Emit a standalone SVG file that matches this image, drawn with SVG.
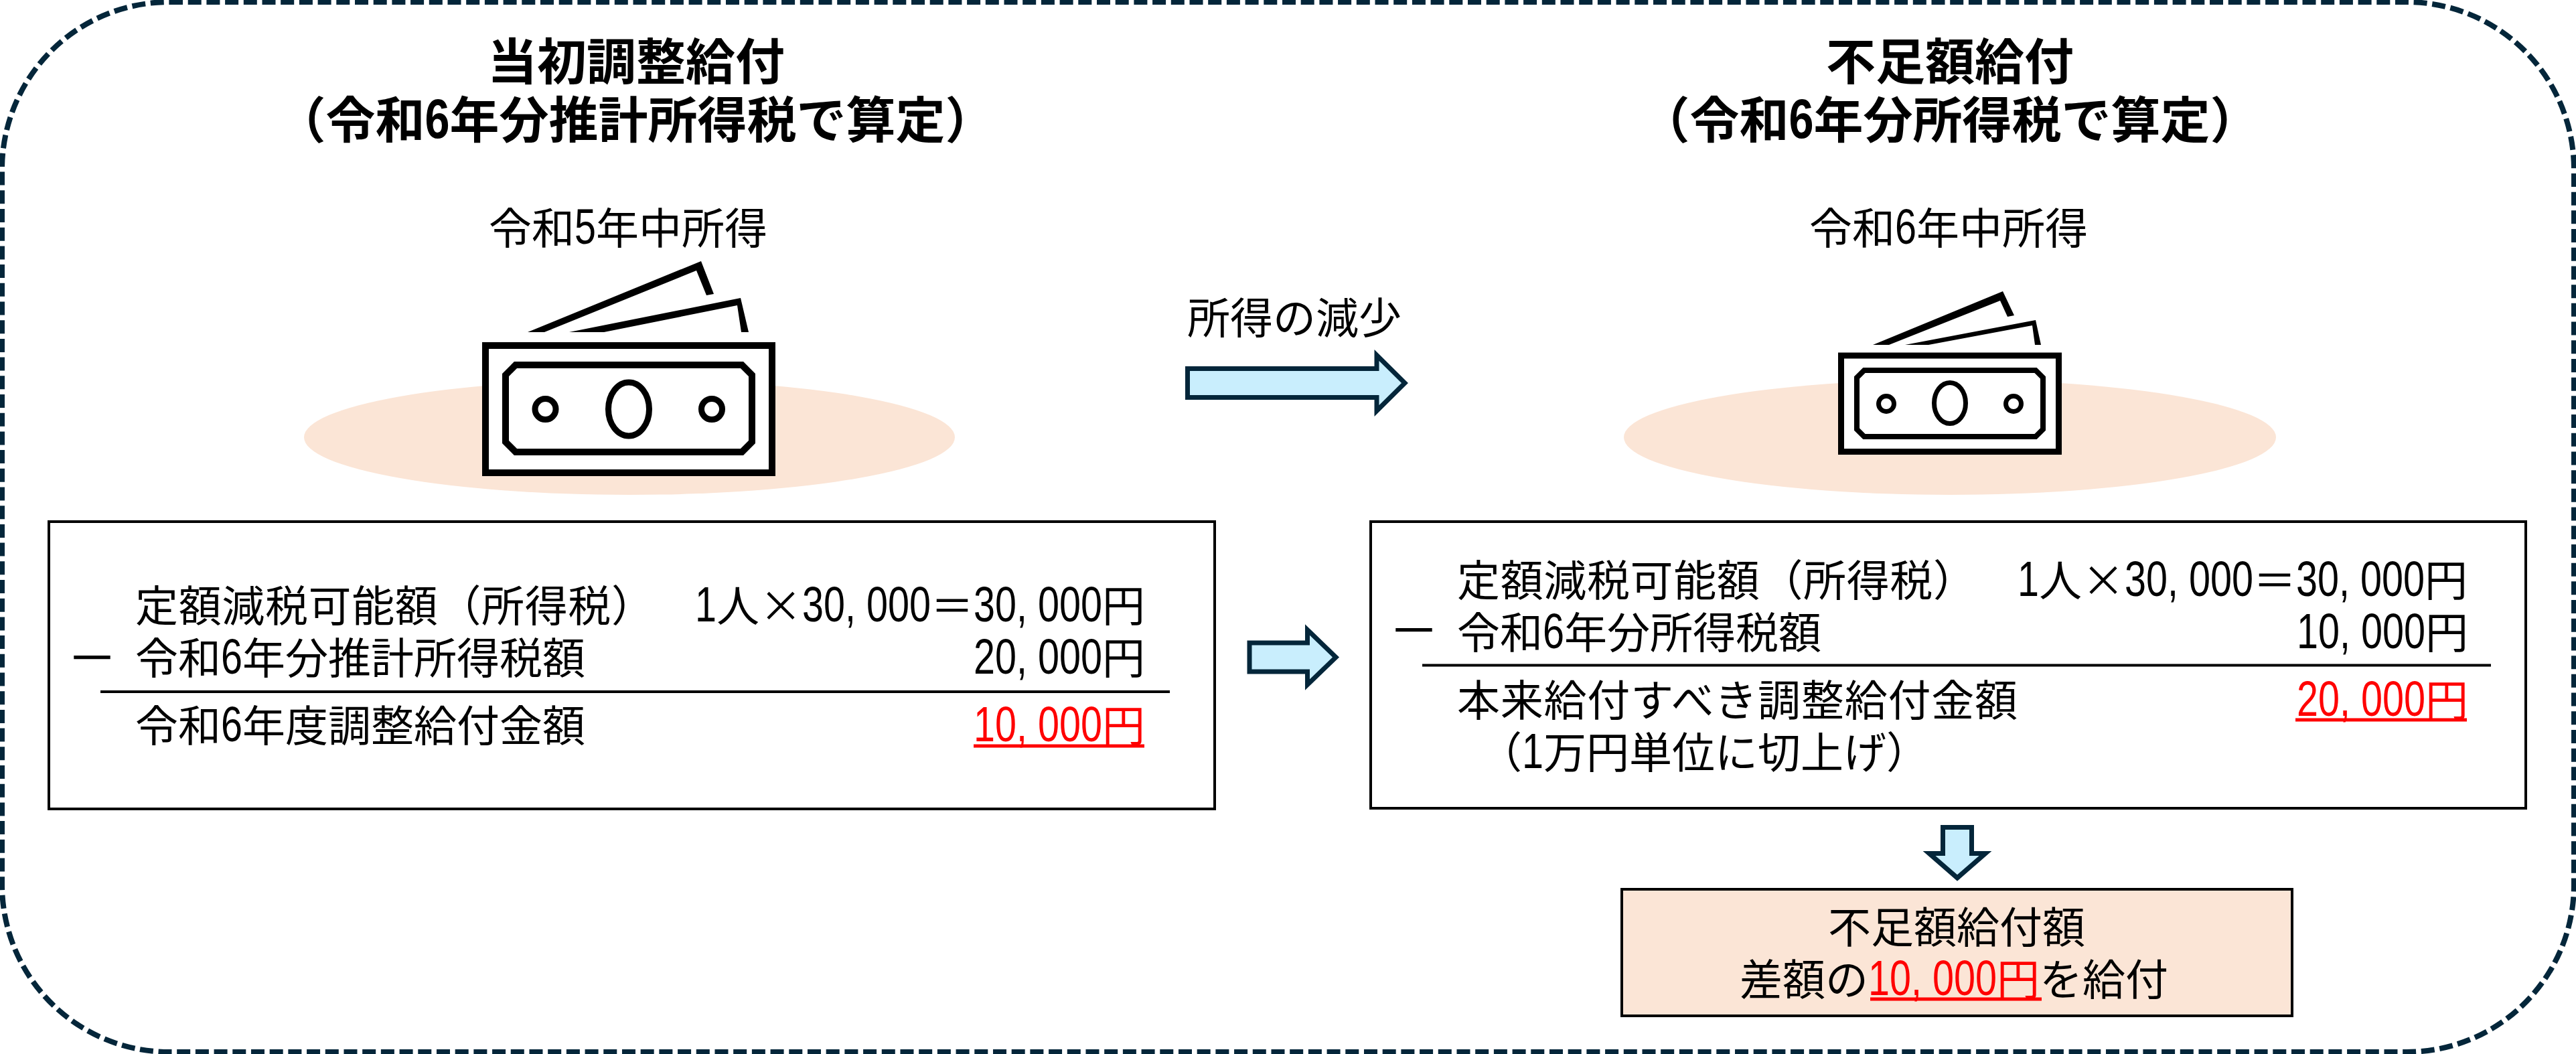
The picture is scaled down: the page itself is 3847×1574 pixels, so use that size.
<svg xmlns="http://www.w3.org/2000/svg" width="3847" height="1574" viewBox="0 0 3847 1574">
<style>
text{font-family:"Noto Sans CJK JP","Noto Sans",sans-serif;font-size:64px;fill:#000}
.n{font-family:"Liberation Sans","Noto Sans CJK JP",sans-serif;font-size:75px}
.h{font-size:74px;font-weight:700}
.h .n{font-size:84px;font-weight:700}
.m{text-anchor:middle}
.r{fill:#f00}
.b{font-size:75px}
.u{stroke:#f00;stroke-width:5}
.box{fill:#fff;stroke:#000;stroke-width:4}
.rule{stroke:#000;stroke-width:4;fill:none}
.disc{fill:#fbe5d6}
.ink{fill:#fff;stroke:#000}
.arrow{fill:#c9eefd;stroke:#04263a;stroke-width:7;stroke-miterlimit:10}
</style>
<rect id="frame" x="3" y="3" width="3841" height="1568" rx="250" ry="250" fill="#fff" stroke="#04263a" stroke-width="8" stroke-dasharray="20 7.7"/>
<g id="left-title"><text class="h m" x="950" y="119">当初調整給付</text><text class="h m" x="949" y="206">（令和<tspan class="n" textLength="37" lengthAdjust="spacingAndGlyphs">6</tspan>年分推計所得税で算定）</text></g>
<g id="right-title"><text class="h m" x="2912" y="119">不足額給付</text><text class="h m" x="2912" y="206">（令和<tspan class="n" textLength="37" lengthAdjust="spacingAndGlyphs">6</tspan>年分所得税で算定）</text></g>
<g id="left-income">
<text class="m" x="938" y="364">令和<tspan class="n" textLength="32" lengthAdjust="spacingAndGlyphs">5</tspan>年中所得</text>
<ellipse class="disc" cx="940" cy="653" rx="486" ry="86"/>
<polygon points="788,496 1047,390 1066,439 1055,441 1040,404 813,496"/>
<polygon points="850,496 1106,445 1118,496 1107,496 1101,456 902,496"/>
<rect class="ink" x="725" y="516" width="428" height="190" stroke-width="10"/>
<polygon class="ink" stroke-width="10" points="770,545 1108,545 1123,560 1123,660 1108,675 770,675 755,660 755,560"/>
<ellipse class="ink" cx="939" cy="611" rx="30.5" ry="40" stroke-width="9"/>
<circle class="ink" cx="814.5" cy="611" r="15.5" stroke-width="9"/>
<circle class="ink" cx="1063" cy="611" r="15.5" stroke-width="9"/>
</g>
<g id="right-income">
<text class="m" x="2910" y="364">令和<tspan class="n" textLength="32" lengthAdjust="spacingAndGlyphs">6</tspan>年中所得</text>
<ellipse class="disc" cx="2912" cy="653" rx="487" ry="86"/>
<polygon points="2797,515 2991,435 3008,471 2998,473 2987,449 2821,515"/>
<polygon points="2845,515 3040,478 3048,515 3039,515 3035,486 2880,515"/>
<rect class="ink" x="2749.5" y="531" width="325" height="143.5" stroke-width="9"/>
<polygon class="ink" stroke-width="8" points="2784,553 3040,553 3051,564 3051,641 3040,652 2784,652 2773,641 2773,564"/>
<ellipse class="ink" cx="2912" cy="602" rx="23.5" ry="30.5" stroke-width="7"/>
<circle class="ink" cx="2817" cy="603" r="11.5" stroke-width="7"/>
<circle class="ink" cx="3007" cy="603" r="11.5" stroke-width="7"/>
</g>
<g id="left-box">
<rect class="box" x="73" y="779" width="1741" height="429"/>
<text x="202" y="928" textLength="775">定額減税可能額（所得税）</text>
<text x="1038" y="928"><tspan class="n" textLength="32" lengthAdjust="spacingAndGlyphs">1</tspan>人×<tspan class="n" textLength="64" lengthAdjust="spacingAndGlyphs">30</tspan><tspan class="n" textLength="16" lengthAdjust="spacingAndGlyphs">,</tspan><tspan class="n" dx="16" textLength="96" lengthAdjust="spacingAndGlyphs">000</tspan>＝<tspan class="n" textLength="64" lengthAdjust="spacingAndGlyphs">30</tspan><tspan class="n" textLength="16" lengthAdjust="spacingAndGlyphs">,</tspan><tspan class="n" dx="16" textLength="96" lengthAdjust="spacingAndGlyphs">000</tspan>円</text>
<text class="b" x="100" y="1010">－</text>
<text x="202" y="1006">令和<tspan class="n" textLength="32" lengthAdjust="spacingAndGlyphs">6</tspan>年分推計所得税額</text>
<text x="1454" y="1006"><tspan class="n" textLength="64" lengthAdjust="spacingAndGlyphs">20</tspan><tspan class="n" textLength="16" lengthAdjust="spacingAndGlyphs">,</tspan><tspan class="n" dx="16" textLength="96" lengthAdjust="spacingAndGlyphs">000</tspan>円</text>
<line class="rule" x1="150" y1="1033" x2="1747" y2="1033"/>
<text x="202" y="1107">令和<tspan class="n" textLength="32" lengthAdjust="spacingAndGlyphs">6</tspan>年度調整給付金額</text>
<text class="r" x="1454" y="1107"><tspan class="n r" textLength="64" lengthAdjust="spacingAndGlyphs">10</tspan><tspan class="n r" textLength="16" lengthAdjust="spacingAndGlyphs">,</tspan><tspan class="n r" dx="16" textLength="96" lengthAdjust="spacingAndGlyphs">000</tspan>円</text>
<line class="u" x1="1454" y1="1114" x2="1709" y2="1114"/>
</g>
<g id="right-box">
<rect class="box" x="2047" y="779" width="1725" height="428"/>
<text x="2176" y="890" textLength="775">定額減税可能額（所得税）</text>
<text x="3013" y="890"><tspan class="n" textLength="32" lengthAdjust="spacingAndGlyphs">1</tspan>人×<tspan class="n" textLength="64" lengthAdjust="spacingAndGlyphs">30</tspan><tspan class="n" textLength="16" lengthAdjust="spacingAndGlyphs">,</tspan><tspan class="n" dx="16" textLength="96" lengthAdjust="spacingAndGlyphs">000</tspan>＝<tspan class="n" textLength="64" lengthAdjust="spacingAndGlyphs">30</tspan><tspan class="n" textLength="16" lengthAdjust="spacingAndGlyphs">,</tspan><tspan class="n" dx="16" textLength="96" lengthAdjust="spacingAndGlyphs">000</tspan>円</text>
<text class="b" x="2074" y="969">－</text>
<text x="2176" y="968">令和<tspan class="n" textLength="32" lengthAdjust="spacingAndGlyphs">6</tspan>年分所得税額</text>
<text x="3430" y="968"><tspan class="n" textLength="64" lengthAdjust="spacingAndGlyphs">10</tspan><tspan class="n" textLength="16" lengthAdjust="spacingAndGlyphs">,</tspan><tspan class="n" dx="16" textLength="96" lengthAdjust="spacingAndGlyphs">000</tspan>円</text>
<line class="rule" x1="2124" y1="993.5" x2="3720" y2="993.5"/>
<text x="2176" y="1069" textLength="837">本来給付すべき調整給付金額</text>
<text class="r" x="3430" y="1069"><tspan class="n r" textLength="64" lengthAdjust="spacingAndGlyphs">20</tspan><tspan class="n r" textLength="16" lengthAdjust="spacingAndGlyphs">,</tspan><tspan class="n r" dx="16" textLength="96" lengthAdjust="spacingAndGlyphs">000</tspan>円</text>
<line class="u" x1="3428" y1="1075" x2="3684" y2="1075"/>
<text x="2209" y="1147">（<tspan class="n" textLength="32" lengthAdjust="spacingAndGlyphs">1</tspan>万円単位に切上げ）</text>
</g>
<g id="result-box">
<rect x="2422" y="1328" width="1001" height="189" fill="#fbe5d6" stroke="#000" stroke-width="4"/>
<text class="m" x="2922" y="1408">不足額給付額</text>
<text x="2598" y="1486">差額の<tspan class="n r" textLength="64" lengthAdjust="spacingAndGlyphs">10</tspan><tspan class="n r" textLength="16" lengthAdjust="spacingAndGlyphs">,</tspan><tspan class="n r" dx="16" textLength="96" lengthAdjust="spacingAndGlyphs">000</tspan><tspan class="r">円</tspan>を給付</text>
<line class="u" x1="2793" y1="1492" x2="3049" y2="1492"/>
</g>
<g id="connectors">
<text id="arrow-label" x="1773" y="498">所得の減少</text>
<polygon class="arrow" points="1773.5,550.5 2056,550.5 2056,530.5 2098,572 2056,613.5 2056,593.5 1773.5,593.5"/>
<polygon class="arrow" points="1866,960 1952.5,960 1952.5,940.5 1995,981.5 1952.5,1022.5 1952.5,1003 1866,1003"/>
<polygon class="arrow" points="2901.5,1235.5 2944.5,1235.5 2944.5,1274.5 2965,1274.5 2923,1311 2881,1274.5 2901.5,1274.5"/>
</g>
</svg>
